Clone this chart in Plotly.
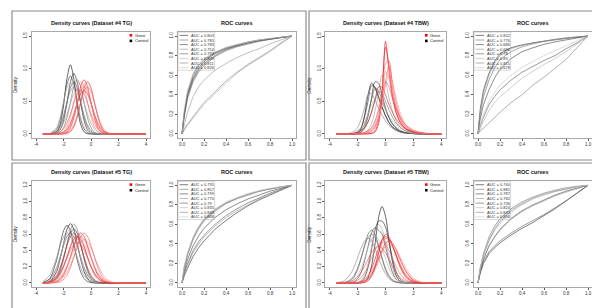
import plotly.graph_objects as go

W, H = 600, 308

# ---------------- data ----------------
DENS_X = [-3.5, -3, -2.5, -2.25, -2, -1.75, -1.5, -1.25, -1, -0.75, -0.5, -0.25,
          0, 0.25, 0.5, 0.75, 1, 1.25, 1.5, 2, 2.5, 3, 4]

TG4_CONTROL = [
    [0,0,0.032,0.143,0.43,0.85,1.06,0.85,0.43,0.143,0.032,0.004,0,0,0,0,0,0,0,0,0,0,0],
    [0,0,0.013,0.062,0.20,0.47,0.79,0.93,0.79,0.47,0.20,0.062,0.013,0.002,0,0,0,0,0,0,0,0,0],
    [0,0.003,0.075,0.22,0.48,0.76,0.89,0.76,0.48,0.22,0.075,0.019,0.003,0,0,0,0,0,0,0,0,0,0],
    [0,0.002,0.035,0.108,0.26,0.485,0.706,0.80,0.706,0.485,0.26,0.108,0.035,0.009,0.002,0,0,0,0,0,0,0,0],
    [0,0,0.006,0.028,0.095,0.245,0.48,0.725,0.83,0.725,0.48,0.245,0.095,0.028,0.006,0.001,0,0,0,0,0,0,0],
    [0,0.005,0.055,0.139,0.286,0.48,0.654,0.725,0.654,0.48,0.286,0.139,0.055,0.018,0.005,0.001,0,0,0,0,0,0,0],
    [0,0.003,0.029,0.076,0.166,0.305,0.47,0.61,0.665,0.61,0.47,0.305,0.166,0.076,0.029,0.009,0.003,0,0,0,0,0,0],
    [0,0.009,0.108,0.26,0.485,0.706,0.80,0.706,0.485,0.26,0.108,0.035,0.009,0.002,0,0,0,0,0,0,0,0,0],
]
TG4_GENE = [
    [0,0,0,0.001,0.006,0.028,0.095,0.245,0.48,0.725,0.83,0.725,0.48,0.245,0.095,0.028,0.006,0.001,0,0,0,0,0],
    [0,0,0,0,0.002,0.009,0.035,0.108,0.26,0.485,0.706,0.80,0.706,0.485,0.26,0.108,0.035,0.009,0.002,0,0,0,0],
    [0,0,0.001,0.005,0.018,0.055,0.139,0.286,0.48,0.654,0.725,0.654,0.48,0.286,0.139,0.055,0.018,0.005,0.001,0,0,0,0],
    [0,0,0,0.001,0.005,0.018,0.055,0.139,0.286,0.48,0.654,0.725,0.654,0.48,0.286,0.139,0.055,0.018,0.005,0,0,0,0],
    [0,0,0.002,0.009,0.035,0.108,0.26,0.485,0.706,0.80,0.706,0.485,0.26,0.108,0.035,0.009,0.002,0,0,0,0,0,0],
    [0,0,0.003,0.009,0.029,0.076,0.166,0.305,0.47,0.61,0.665,0.61,0.47,0.305,0.166,0.076,0.029,0.009,0.003,0,0,0,0],
    [0,0,0,0.003,0.012,0.043,0.121,0.272,0.485,0.686,0.77,0.686,0.485,0.272,0.121,0.043,0.012,0.003,0,0,0,0,0],
    [0,0.001,0.009,0.029,0.076,0.166,0.305,0.47,0.61,0.665,0.61,0.47,0.305,0.166,0.076,0.029,0.009,0.003,0.001,0,0,0,0],
]

TBW4_CONTROL = [
    [0,0,0,0.002,0.013,0.08,0.28,0.6,0.78,0.7,0.56,0.41,0.28,0.18,0.11,0.07,0.04,0.025,0.015,0.006,0.002,0,0],
    [0,0,0,0.002,0.008,0.03,0.1,0.27,0.55,0.8,0.78,0.6,0.4,0.25,0.15,0.09,0.05,0.03,0.018,0.006,0.002,0,0],
    [0,0,0.003,0.01,0.035,0.1,0.26,0.5,0.74,0.72,0.58,0.42,0.28,0.17,0.1,0.06,0.035,0.02,0.012,0.004,0.001,0,0],
    [0,0,0.002,0.006,0.02,0.06,0.15,0.32,0.53,0.7,0.66,0.52,0.37,0.25,0.16,0.1,0.06,0.035,0.02,0.007,0.002,0,0],
    [0,0,0.001,0.003,0.01,0.03,0.08,0.18,0.34,0.52,0.65,0.62,0.5,0.37,0.26,0.17,0.11,0.07,0.045,0.018,0.007,0.002,0],
    [0,0.002,0.015,0.04,0.1,0.22,0.4,0.6,0.62,0.52,0.4,0.29,0.2,0.13,0.085,0.055,0.035,0.022,0.014,0.005,0.002,0,0],
    [0,0,0,0,0.001,0.005,0.02,0.06,0.16,0.35,0.62,0.9,0.8,0.55,0.35,0.21,0.12,0.07,0.04,0.013,0.004,0,0],
    [0,0.003,0.012,0.025,0.05,0.1,0.18,0.3,0.44,0.54,0.55,0.48,0.38,0.28,0.2,0.14,0.095,0.063,0.04,0.016,0.006,0.002,0],
]
TBW4_GENE = [
    [0,0,0,0,0,0,0,0.002,0.008,0.03,0.15,0.6,1.42,0.95,0.55,0.33,0.2,0.12,0.07,0.03,0.012,0.004,0],
    [0,0,0,0,0,0,0.002,0.004,0.01,0.05,0.2,0.65,1.33,1.05,0.6,0.35,0.2,0.12,0.07,0.03,0.01,0.003,0],
    [0,0,0,0,0,0.002,0.005,0.015,0.04,0.1,0.25,0.58,1.08,1.12,0.7,0.42,0.25,0.15,0.09,0.035,0.015,0.005,0],
    [0,0,0,0,0.002,0.005,0.01,0.02,0.05,0.12,0.25,0.45,0.8,1.05,0.8,0.5,0.3,0.18,0.11,0.045,0.018,0.007,0],
    [0,0.001,0.002,0.003,0.005,0.01,0.02,0.04,0.08,0.17,0.33,0.62,0.96,0.85,0.6,0.4,0.26,0.16,0.1,0.04,0.015,0.005,0],
    [0,0.002,0.005,0.01,0.025,0.05,0.1,0.19,0.33,0.52,0.72,0.72,0.6,0.45,0.33,0.23,0.16,0.1,0.07,0.03,0.012,0.004,0],
    [0,0,0.001,0.002,0.003,0.008,0.018,0.035,0.07,0.13,0.25,0.45,0.75,0.9,0.78,0.55,0.36,0.22,0.13,0.045,0.015,0.005,0],
    [0,0.001,0.002,0.003,0.005,0.012,0.025,0.05,0.1,0.2,0.38,0.62,0.8,0.72,0.55,0.4,0.28,0.19,0.13,0.06,0.025,0.01,0],
]

TG5_CONTROL = [
    [0.001,0.018,0.14,0.29,0.48,0.66,0.73,0.66,0.48,0.29,0.14,0.055,0.018,0.005,0.001,0,0,0,0,0,0,0,0],
    [0.005,0.054,0.28,0.47,0.64,0.71,0.64,0.47,0.28,0.136,0.054,0.017,0.005,0.001,0,0,0,0,0,0,0,0,0],
    [0.001,0.009,0.076,0.166,0.305,0.47,0.61,0.665,0.61,0.47,0.305,0.166,0.076,0.029,0.009,0.003,0.001,0,0,0,0,0,0],
    [0.005,0.043,0.188,0.316,0.457,0.57,0.614,0.57,0.457,0.316,0.188,0.096,0.043,0.016,0.005,0.002,0,0,0,0,0,0,0],
    [0,0.005,0.055,0.139,0.286,0.48,0.654,0.725,0.654,0.48,0.286,0.139,0.055,0.018,0.005,0.001,0,0,0,0,0,0,0],
    [0.016,0.096,0.316,0.457,0.57,0.614,0.57,0.457,0.316,0.188,0.096,0.043,0.016,0.005,0.002,0,0,0,0,0,0,0,0],
    [0,0.005,0.043,0.096,0.188,0.316,0.457,0.57,0.614,0.57,0.457,0.316,0.188,0.096,0.043,0.016,0.005,0.002,0,0,0,0,0],
    [0.003,0.029,0.166,0.305,0.47,0.61,0.665,0.61,0.47,0.305,0.166,0.076,0.029,0.009,0.003,0.001,0,0,0,0,0,0,0],
]
TG5_GENE = [
    [0,0.002,0.016,0.043,0.096,0.188,0.316,0.457,0.57,0.614,0.57,0.457,0.316,0.188,0.096,0.043,0.016,0.005,0.002,0,0,0,0],
    [0.001,0.01,0.057,0.116,0.205,0.321,0.442,0.535,0.57,0.535,0.442,0.321,0.205,0.116,0.057,0.025,0.01,0.003,0.001,0,0,0,0],
    [0.002,0.014,0.068,0.125,0.206,0.304,0.4,0.473,0.5,0.473,0.4,0.304,0.206,0.125,0.068,0.033,0.014,0.006,0.002,0,0,0,0],
    [0,0.003,0.025,0.057,0.116,0.205,0.321,0.442,0.535,0.57,0.535,0.442,0.321,0.205,0.116,0.057,0.025,0.01,0.003,0,0,0,0],
    [0,0.002,0.015,0.035,0.072,0.133,0.219,0.323,0.426,0.503,0.532,0.503,0.426,0.323,0.219,0.133,0.072,0.035,0.015,0.002,0,0,0],
    [0.002,0.016,0.096,0.188,0.316,0.457,0.57,0.614,0.57,0.457,0.316,0.188,0.096,0.043,0.016,0.005,0.002,0,0,0,0,0,0],
    [0,0.006,0.033,0.068,0.125,0.206,0.304,0.4,0.473,0.5,0.473,0.4,0.304,0.206,0.125,0.068,0.033,0.014,0.006,0,0,0,0],
    [0,0,0.005,0.016,0.043,0.096,0.188,0.316,0.457,0.57,0.614,0.57,0.457,0.316,0.188,0.096,0.043,0.016,0.005,0,0,0,0],
]

TBW5_CONTROL = [
    [0,0,0,0,0,0.002,0.013,0.063,0.21,0.48,0.8,0.94,0.82,0.53,0.26,0.1,0.03,0.008,0.002,0,0,0,0],
    [0,0,0,0,0.003,0.016,0.065,0.19,0.41,0.65,0.76,0.76,0.69,0.5,0.3,0.145,0.057,0.018,0.005,0,0,0,0],
    [0,0,0.004,0.017,0.05,0.13,0.27,0.45,0.615,0.68,0.65,0.6,0.45,0.27,0.13,0.05,0.017,0.005,0.001,0,0,0,0],
    [0,0.003,0.028,0.074,0.162,0.3,0.46,0.6,0.65,0.6,0.46,0.3,0.162,0.074,0.028,0.009,0.003,0,0,0,0,0,0],
    [0,0.005,0.043,0.094,0.184,0.31,0.447,0.557,0.6,0.557,0.447,0.31,0.184,0.094,0.043,0.016,0.005,0.002,0,0,0,0,0],
    [0.003,0.024,0.112,0.198,0.31,0.427,0.516,0.55,0.516,0.427,0.31,0.198,0.112,0.055,0.024,0.01,0.003,0.001,0,0,0,0,0],
    [0,0,0,0.002,0.008,0.032,0.097,0.234,0.44,0.64,0.72,0.66,0.51,0.33,0.18,0.082,0.032,0.01,0.003,0,0,0,0],
    [0,0.001,0.015,0.041,0.091,0.178,0.299,0.432,0.539,0.58,0.539,0.432,0.299,0.178,0.091,0.041,0.015,0.005,0.001,0,0,0,0],
]
TBW5_GENE = [
    [0,0,0,0.001,0.005,0.015,0.04,0.089,0.175,0.294,0.425,0.53,0.57,0.539,0.456,0.346,0.235,0.142,0.077,0.016,0.002,0,0],
    [0,0,0,0.001,0.003,0.009,0.023,0.052,0.106,0.187,0.293,0.403,0.488,0.52,0.491,0.416,0.316,0.214,0.13,0.034,0.006,0.001,0],
    [0,0,0,0,0.001,0.004,0.013,0.042,0.105,0.217,0.364,0.496,0.55,0.524,0.453,0.355,0.252,0.162,0.095,0.024,0.004,0.001,0],
    [0,0.001,0.006,0.014,0.033,0.068,0.125,0.206,0.304,0.4,0.473,0.5,0.473,0.4,0.304,0.206,0.125,0.068,0.033,0.006,0.001,0,0],
    [0,0,0.001,0.004,0.009,0.021,0.043,0.081,0.139,0.215,0.303,0.387,0.447,0.47,0.447,0.387,0.303,0.215,0.139,0.043,0.009,0.001,0],
    [0,0,0,0,0,0.001,0.007,0.026,0.081,0.195,0.364,0.53,0.6,0.563,0.465,0.338,0.216,0.122,0.06,0.011,0.001,0,0],
    [0,0,0,0,0.001,0.004,0.013,0.035,0.078,0.153,0.257,0.372,0.464,0.5,0.479,0.42,0.339,0.25,0.17,0.06,0.015,0.003,0],
    [0,0.003,0.02,0.041,0.077,0.133,0.206,0.29,0.37,0.428,0.45,0.428,0.37,0.29,0.206,0.133,0.077,0.041,0.02,0.003,0,0,0],
]

ROC_FPR = [0, 0.02, 0.05, 0.1, 0.15, 0.2, 0.3, 0.4, 0.5, 0.6, 0.7, 0.8, 0.9, 1.0]

TG4_ROC = [
    [0,0.2,0.4,0.57,0.67,0.74,0.82,0.87,0.9,0.93,0.95,0.97,0.985,1],
    [0,0.17,0.36,0.53,0.63,0.7,0.79,0.85,0.89,0.92,0.945,0.965,0.985,1],
    [0,0.22,0.42,0.6,0.7,0.76,0.83,0.88,0.91,0.94,0.96,0.975,0.99,1],
    [0,0.1,0.22,0.38,0.48,0.55,0.65,0.72,0.78,0.83,0.87,0.92,0.96,1],
    [0,0.18,0.38,0.55,0.65,0.72,0.8,0.86,0.9,0.93,0.955,0.97,0.985,1],
    [0,0.04,0.09,0.16,0.23,0.3,0.41,0.52,0.62,0.7,0.77,0.84,0.92,1],
    [0,0.05,0.1,0.18,0.25,0.32,0.43,0.54,0.63,0.71,0.78,0.85,0.93,1],
    [0,0.24,0.45,0.62,0.71,0.77,0.84,0.885,0.915,0.94,0.96,0.975,0.99,1],
]
TBW4_ROC = [
    [0,0.25,0.45,0.62,0.74,0.82,0.88,0.91,0.93,0.95,0.965,0.98,0.99,1],
    [0,0.2,0.38,0.55,0.67,0.76,0.84,0.89,0.92,0.945,0.96,0.975,0.99,1],
    [0,0.15,0.3,0.45,0.57,0.66,0.77,0.84,0.88,0.915,0.94,0.96,0.98,1],
    [0,0.22,0.42,0.6,0.72,0.8,0.87,0.905,0.93,0.95,0.965,0.98,0.99,1],
    [0,0.08,0.17,0.3,0.38,0.45,0.55,0.63,0.69,0.75,0.8,0.87,0.93,1],
    [0,0.06,0.13,0.24,0.32,0.38,0.48,0.57,0.64,0.71,0.77,0.84,0.92,1],
    [0,0.03,0.06,0.11,0.16,0.22,0.32,0.4,0.5,0.58,0.67,0.76,0.88,1],
    [0,0.1,0.2,0.33,0.42,0.5,0.6,0.68,0.74,0.8,0.85,0.9,0.95,1],
]
TG5_ROC = [
    [0,0.07,0.15,0.27,0.36,0.43,0.55,0.64,0.72,0.79,0.85,0.9,0.95,1],
    [0,0.16,0.3,0.46,0.57,0.65,0.75,0.82,0.87,0.91,0.94,0.965,0.985,1],
    [0,0.12,0.24,0.38,0.48,0.56,0.67,0.75,0.81,0.86,0.9,0.94,0.97,1],
    [0,0.09,0.18,0.31,0.4,0.47,0.58,0.67,0.74,0.8,0.86,0.91,0.955,1],
    [0,0.1,0.2,0.33,0.42,0.49,0.6,0.69,0.76,0.82,0.87,0.92,0.96,1],
    [0,0.14,0.28,0.44,0.55,0.63,0.73,0.81,0.86,0.9,0.935,0.96,0.98,1],
    [0,0.15,0.29,0.45,0.56,0.64,0.74,0.815,0.865,0.905,0.94,0.965,0.985,1],
    [0,0.17,0.31,0.47,0.58,0.66,0.76,0.83,0.875,0.915,0.945,0.97,0.985,1],
]
TBW5_ROC = [
    [0,0.1,0.2,0.3,0.36,0.41,0.49,0.56,0.62,0.69,0.76,0.84,0.92,1],
    [0,0.15,0.3,0.47,0.58,0.66,0.76,0.83,0.88,0.92,0.95,0.975,0.99,1],
    [0,0.12,0.24,0.38,0.47,0.55,0.66,0.74,0.8,0.85,0.9,0.94,0.97,1],
    [0,0.13,0.25,0.38,0.47,0.54,0.65,0.73,0.79,0.84,0.89,0.93,0.965,1],
    [0,0.11,0.22,0.32,0.38,0.43,0.51,0.58,0.64,0.7,0.77,0.84,0.92,1],
    [0,0.14,0.28,0.43,0.53,0.61,0.72,0.8,0.86,0.9,0.935,0.96,0.98,1],
    [0,0.14,0.29,0.44,0.55,0.63,0.74,0.81,0.87,0.91,0.94,0.965,0.985,1],
    [0,0.15,0.3,0.45,0.56,0.64,0.75,0.82,0.875,0.915,0.945,0.97,0.985,1],
]

TG4_AUC = ["0.803", "0.785", "0.783", "0.754", "0.793", "0.809", "0.811", "0.826"]
TBW4_AUC = ["0.822", "0.776", "0.686", "0.681", "0.78", "0.83", "0.815", "0.678"]
TG5_AUC = ["0.735", "0.857", "0.799", "0.770", "0.79", "0.835", "0.848", "0.848"]
TBW5_AUC = ["0.740", "0.881", "0.787", "0.782", "0.736", "0.824", "0.843", "0.856"]

DENS_TITLES = ["Density curves (Dataset #4 TG)", "Density curves (Dataset #4 TBW)",
               "Density curves (Dataset #5 TG)", "Density curves (Dataset #5 TBW)"]
ROC_TITLE = "ROC curves"
LEGEND_LABELS = ["Gene", "Control"]

DENS_XTICKS = [-4, -2, 0, 2, 4]
TOP_YTICKS = [0, 0.5, 1.0, 1.5]
BOT_YTICKS = [0, 0.2, 0.4, 0.6, 0.8, 1.0, 1.2]
ROC_TICKS = [0, 0.2, 0.4, 0.6, 0.8, 1.0]

# ---------------- styling ----------------
GENE_COLORS = ["#ff0000", "#e8141e", "#ff4a4a", "#f06060", "#ff7878", "#d42020", "#ff9090", "#e85050"]
CONTROL_COLORS = ["#000000", "#1c1c1c", "#333333", "#4d4d4d", "#666666", "#808080", "#9a9a9a", "#b5b5b5"]
ROC_COLORS = ["#262626", "#6a6a6a", "#404040", "#969696", "#585858", "#b0b0b0", "#7c7c7c", "#c4c4c4"]
FONT = "Liberation Sans, Arial, sans-serif"

def fx(p):
    return p / W

def fy(p):
    return 1 - p / H

# plot boxes in pixels: (left, right, top, bottom)
BOXES = {
    1: (23.6, 142.4, 24.1, 129.9),
    2: (169.6, 288.4, 24.1, 129.9),
    3: (317.2, 437.8, 24.1, 129.9),
    4: (465.6, 584.4, 24.1, 129.9),
    5: (23.6, 142.4, 173.4, 278.9),
    6: (169.6, 288.4, 173.4, 278.9),
    7: (317.2, 437.8, 173.4, 278.9),
    8: (465.6, 584.4, 173.4, 278.9),
}
FRAMES = [(4, 3, 298, 152), (301, 3, 597, 152), (4, 155, 298, 301), (301, 155, 596, 301)]

fig = go.Figure()

dens_sets = [(1, TG4_GENE, TG4_CONTROL), (3, TBW4_GENE, TBW4_CONTROL),
             (5, TG5_GENE, TG5_CONTROL), (7, TBW5_GENE, TBW5_CONTROL)]
roc_sets = [(2, TG4_ROC, TG4_AUC), (4, TBW4_ROC, TBW4_AUC),
            (6, TG5_ROC, TG5_AUC), (8, TBW5_ROC, TBW5_AUC)]

def axname(i):
    return "" if i == 1 else str(i)

for i, gene, ctrl in dens_sets:
    for k, ys in enumerate(ctrl):
        fig.add_trace(go.Scatter(x=DENS_X, y=ys, mode="lines", line=dict(color=CONTROL_COLORS[k], width=0.6, shape="spline", smoothing=0.8),
                                 xaxis="x" + axname(i), yaxis="y" + axname(i), hoverinfo="skip"))
    for k, ys in enumerate(gene):
        fig.add_trace(go.Scatter(x=DENS_X, y=ys, mode="lines", line=dict(color=GENE_COLORS[k], width=0.6, shape="spline", smoothing=0.8),
                                 xaxis="x" + axname(i), yaxis="y" + axname(i), hoverinfo="skip"))

for i, rocs, aucs in roc_sets:
    for k, ys in enumerate(rocs):
        fig.add_trace(go.Scatter(x=ROC_FPR, y=ys, mode="lines", line=dict(color=ROC_COLORS[k], width=0.6),
                                 xaxis="x" + axname(i), yaxis="y" + axname(i), hoverinfo="skip"))

tickfont = dict(family=FONT, size=4.5, color="#333333")
layout = dict(width=W, height=H, margin=dict(l=0, r=0, t=0, b=0), showlegend=False,
              paper_bgcolor="white", plot_bgcolor="white")

def fmt(v, dec):
    return f"{v:.{dec}f}"

for i, (l, r, t, b) in BOXES.items():
    is_roc = i in (2, 4, 6, 8)
    top_row = i <= 4
    if is_roc:
        xr, yr = [-0.04, 1.04], [-0.04, 1.04]
        xt, xtt = ROC_TICKS, [fmt(v, 1) for v in ROC_TICKS]
        yt, ytt = ROC_TICKS, [fmt(v, 1) for v in ROC_TICKS]
    else:
        xr = [-4.32, 4.32]
        xt, xtt = DENS_XTICKS, [str(v) for v in DENS_XTICKS]
        if top_row:
            yr = [-0.06, 1.56]
            yt, ytt = TOP_YTICKS, [fmt(v, 1) for v in TOP_YTICKS]
        else:
            yr = [-0.048, 1.248]
            yt, ytt = BOT_YTICKS, [fmt(v, 1) for v in BOT_YTICKS]
    common = dict(showgrid=False, zeroline=False, showline=True, linecolor="#a8a8a8", linewidth=0.6,
                  mirror=True, ticks="outside", ticklen=2, tickwidth=0.6, tickcolor="#555555",
                  tickfont=tickfont, fixedrange=True)
    layout["xaxis" + axname(i)] = dict(domain=[fx(l), fx(r)], range=xr, tickvals=xt, ticktext=xtt,
                                      anchor="y" + axname(i), ticklabelstandoff=0, **common)
    layout["yaxis" + axname(i)] = dict(domain=[fy(b), fy(t)], range=yr, tickvals=yt, ticktext=ytt,
                                      anchor="x" + axname(i), tickangle=-90, ticklabelstandoff=0, **common)

fig.update_layout(**layout)

shapes = []
annotations = []
for (x0, y0, x1, y1) in FRAMES:
    shapes.append(dict(type="rect", xref="paper", yref="paper", x0=fx(x0), x1=fx(x1), y0=fy(y1), y1=fy(y0),
                       line=dict(color="#8c8c8c", width=1.2)))

title_font = dict(family=FONT, size=5.5, color="#111111")
for n, (i, gene, ctrl) in enumerate(dens_sets):
    l, r, t, b = BOXES[i]
    annotations.append(dict(text="<b>" + DENS_TITLES[n] + "</b>", xref="paper", yref="paper",
                            x=fx((l + r) / 2), y=fy(t - 9), showarrow=False, font=title_font,
                            xanchor="center", yanchor="middle", borderpad=0))
    annotations.append(dict(text="Density", xref="paper", yref="paper", x=fx(l - 16.5), y=fy((t + b) / 2),
                            showarrow=False, textangle=-90, font=dict(family=FONT, size=4.8, color="#222222"),
                            xanchor="center", yanchor="middle", borderpad=0))
    # legend (Gene / Control)
    for j, (lab, col) in enumerate(zip(LEGEND_LABELS, [GENE_COLORS[0], CONTROL_COLORS[0]])):
        yy = t + 3.2 + j * 5.6
        xx = r - 19.5
        shapes.append(dict(type="rect", xref="paper", yref="paper", x0=fx(xx - 1.3), x1=fx(xx + 1.3),
                           y0=fy(yy + 1.3), y1=fy(yy - 1.3), line=dict(width=0), fillcolor=col))
        annotations.append(dict(text=lab, xref="paper", yref="paper", x=fx(xx + 2.6), y=fy(yy),
                                showarrow=False, font=dict(family=FONT, size=4.2, color="#222222"),
                                xanchor="left", yanchor="middle", borderpad=0))

for i, rocs, aucs in roc_sets:
    l, r, t, b = BOXES[i]
    annotations.append(dict(text="<b>" + ROC_TITLE + "</b>", xref="paper", yref="paper",
                            x=fx((l + r) / 2), y=fy(t - 9), showarrow=False, font=title_font,
                            xanchor="center", yanchor="middle", borderpad=0))
    bx0, bx1, by0 = l + 0.5, l + 37, t
    step = 4.6
    by1 = t + 3.3 + step * (len(aucs) - 1) + 2.6
    shapes.append(dict(type="rect", xref="paper", yref="paper", x0=fx(bx0), x1=fx(bx1), y0=fy(by1), y1=fy(by0),
                       line=dict(color="#b0b0b0", width=0.5), fillcolor="rgba(255,255,255,0)"))
    for k, a in enumerate(aucs):
        yy = t + 3.3 + k * step
        shapes.append(dict(type="line", xref="paper", yref="paper", x0=fx(l + 2), x1=fx(l + 10.5),
                           y0=fy(yy), y1=fy(yy), line=dict(color=ROC_COLORS[k], width=0.6)))
        annotations.append(dict(text="AUC = " + a, xref="paper", yref="paper", x=fx(l + 12), y=fy(yy),
                                showarrow=False, font=dict(family=FONT, size=4.0, color="#333333"),
                                xanchor="left", yanchor="middle", borderpad=0))

fig.update_layout(shapes=shapes, annotations=annotations)
fig.write_html("out.html")
